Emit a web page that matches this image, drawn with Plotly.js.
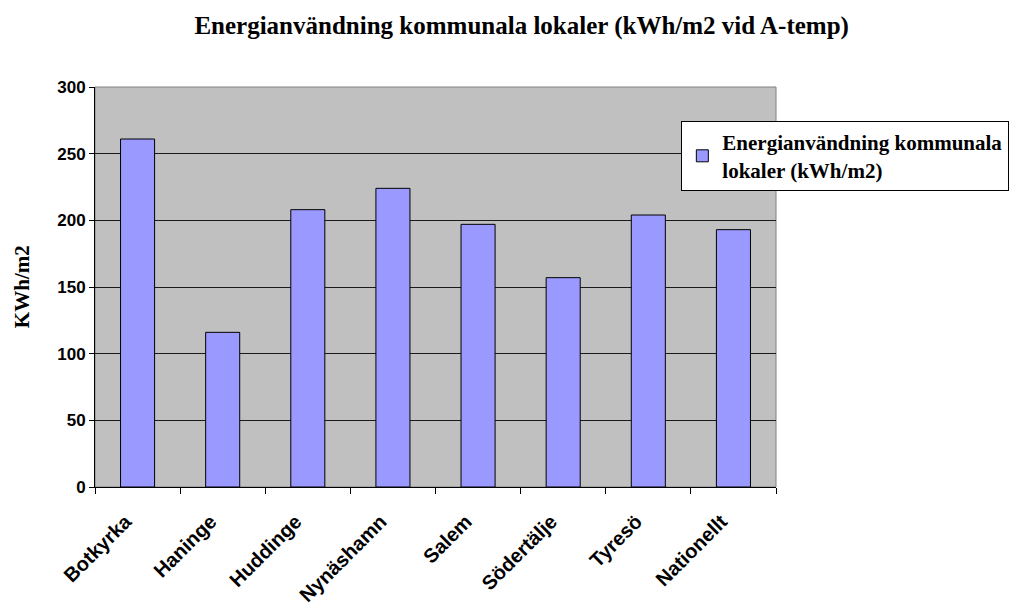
<!DOCTYPE html>
<html>
<head>
<meta charset="utf-8">
<script src="https://cdn.plot.ly/plotly-3.0.1.min.js"></script>
<style>
  body { margin: 0; background: #fff; }
  #graph1 { width: 1033px; height: 613px; }
</style>
</head>
<body>
<div id="graph1"></div>
<script>
// kommuner + values
var kommuner = ['Botkyrka', 'Haninge', 'Huddinge', 'Nynäshamn', 'Salem', 'Södertälje', 'Tyresö', 'Nationellt'];
var energi = [261, 116, 208, 224, 197, 157, 204, 193];
var yTicks = [0, 50, 100, 150, 200, 250, 300];

var serif = 'Liberation Serif, Times New Roman, serif';
var sans = 'Liberation Sans, Arial, sans-serif';

var trace = {
    x: kommuner,
    y: energi,
    name: 'Energianvändning kommunala<br>lokaler (kWh/m2)',
    type: 'bar',
    marker: {
        color: '#9999ff',
        line: { color: '#000000', width: 1 }
    },
    hoverinfo: 'x+y'
};

var layout = {
    width: 1033,
    height: 613,
    autosize: false,
    paper_bgcolor: '#ffffff',
    plot_bgcolor: '#c0c0c0',
    margin: { l: 95, r: 257, t: 87, b: 126, autoexpand: false },
    title: {
        text: 'Energianvändning kommunala lokaler (kWh/m2 vid A-temp)',
        font: { family: serif, size: 25, color: '#000000', weight: 'bold' },
        x: 0.505,
        xref: 'container',
        y: 0.958,
        yref: 'container',
        yanchor: 'middle'
    },
    bargap: 0.6,
    showlegend: true,
    legend: {
        x: 0.861,
        y: 0.915,
        xanchor: 'left',
        yanchor: 'top',
        bgcolor: '#ffffff',
        bordercolor: '#000000',
        borderwidth: 1,
        font: { family: serif, size: 21, color: '#000000', weight: 'bold' }
    },
    xaxis: {
        type: 'category',
        tickangle: -45,
        tickson: 'boundaries',
        ticks: 'outside',
        ticklen: 6,
        tickcolor: '#000000',
        ticklabelstandoff: 14,
        ticklabelshift: -12,
        showline: true,
        linecolor: '#000000',
        linewidth: 1,
        showgrid: false,
        zeroline: false,
        tickfont: { family: sans, size: 20, color: '#000000', weight: 'bold' }
    },
    yaxis: {
        range: [0, 300],
        tickvals: yTicks,
        ticks: 'outside',
        ticklen: 5,
        tickcolor: '#000000',
        showline: true,
        linecolor: '#000000',
        linewidth: 1,
        showgrid: true,
        gridcolor: '#1a1a1a',
        gridwidth: 1,
        zeroline: false,
        tickfont: { family: sans, size: 17, color: '#000000', weight: 'bold' }
    },
    annotations: [{
        // y axis title placed by hand so it sits at the left edge
        text: 'KWh/m2',
        xref: 'paper', yref: 'paper',
        x: -0.107, y: 0.5,
        xanchor: 'center', yanchor: 'middle',
        textangle: -90,
        showarrow: false,
        font: { family: serif, size: 21, color: '#000000', weight: 'bold' }
    }],
    shapes: [{
        type: 'rect',
        xref: 'paper', yref: 'paper',
        x0: 0, x1: 1, y0: 0, y1: 1,
        line: { color: '#808080', width: 1 },
        layer: 'below'
    }]
};

Plotly.newPlot('graph1', [trace], layout, { staticPlot: true });
</script>
</body>
</html>
